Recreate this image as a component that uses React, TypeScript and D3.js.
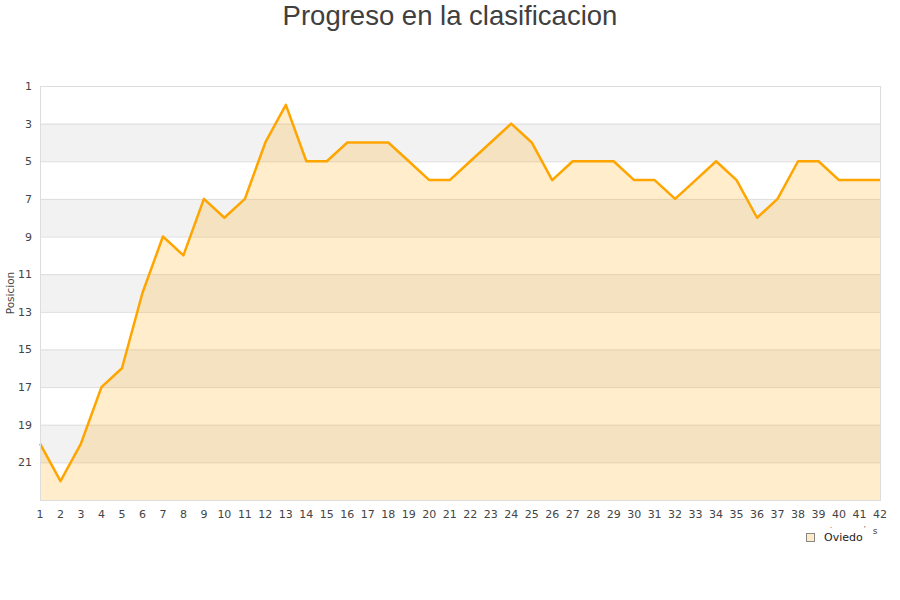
import { useEffect, useRef } from "react";
import * as d3 from "d3";

const jornadas = d3.range(1, 43);
const posiciones = [
  20, 22, 20, 17, 16, 12, 9, 10, 7, 8, 7, 4, 2, 5, 5, 4, 4, 4, 5, 6, 6,
  5, 4, 3, 4, 6, 5, 5, 5, 6, 6, 7, 6, 5, 6, 8, 7, 5, 5, 6, 6, 6,
];
const yTicks = [1, 3, 5, 7, 9, 11, 13, 15, 17, 19, 21];
const bandStarts = [3, 7, 11, 15, 19];
const serieNombre = "Oviedo";
const titulo = "Progreso en la clasificacion";

const App = () => {
  const svgRef = useRef<SVGSVGElement | null>(null);

  useEffect(() => {
    const width = 900;
    const height = 600;
    const margin = { top: 86, right: 20, bottom: 100, left: 40 };
    const fontTicks = "DejaVu Sans, sans-serif";

    const svg = d3.select(svgRef.current).attr("width", width).attr("height", height);
    svg.selectAll("*").remove();

    const x = d3
      .scaleLinear()
      .domain([1, 42])
      .range([margin.left, width - margin.right]);
    const y = d3
      .scaleLinear()
      .domain([1, 23])
      .range([margin.top, height - margin.bottom]);

    // Title
    svg
      .append("text")
      .attr("x", width / 2)
      .attr("y", 25)
      .attr("text-anchor", "middle")
      .attr("font-family", "Liberation Sans, Arial, sans-serif")
      .attr("font-size", 27.5)
      .attr("fill", "#404040")
      .text(titulo);

    // Alternating bands
    svg
      .append("g")
      .selectAll("rect")
      .data(bandStarts)
      .join("rect")
      .attr("x", x(1))
      .attr("width", x(42) - x(1))
      .attr("y", (d) => y(d))
      .attr("height", (d) => y(d + 2) - y(d))
      .attr("fill", "#f2f2f2");

    // Grid lines
    svg
      .append("g")
      .selectAll("line")
      .data(yTicks)
      .join("line")
      .attr("x1", x(1))
      .attr("x2", x(42))
      .attr("y1", (d) => y(d) + 0.5)
      .attr("y2", (d) => y(d) + 0.5)
      .attr("stroke", "#dddddd")
      .attr("stroke-width", 1);

    // Area + line
    const area = d3
      .area<number>()
      .x((_, i) => x(jornadas[i]))
      .y0(y(23))
      .y1((d) => y(d));
    svg
      .append("path")
      .datum(posiciones)
      .attr("d", area)
      .attr("fill", "rgba(255,165,0,0.2)");

    const line = d3
      .line<number>()
      .x((_, i) => x(jornadas[i]))
      .y((d) => y(d));
    svg
      .append("path")
      .datum(posiciones)
      .attr("d", line)
      .attr("fill", "none")
      .attr("stroke", "#ffa500")
      .attr("stroke-width", 2.5)
      .attr("stroke-linejoin", "round");

    // Plot frame
    svg
      .append("rect")
      .attr("x", x(1) + 0.5)
      .attr("y", y(1) + 0.5)
      .attr("width", x(42) - x(1))
      .attr("height", y(23) - y(1))
      .attr("fill", "none")
      .attr("stroke", "#dddddd");

    // Y tick labels
    svg
      .append("g")
      .selectAll("text")
      .data(yTicks)
      .join("text")
      .attr("x", x(1) - 8)
      .attr("y", (d) => y(d) + 4)
      .attr("text-anchor", "end")
      .attr("font-family", fontTicks)
      .attr("font-size", 11)
      .attr("fill", "#444")
      .text((d) => d);

    // X tick labels
    svg
      .append("g")
      .selectAll("text")
      .data(jornadas)
      .join("text")
      .attr("x", (d) => x(d))
      .attr("y", y(23) + 18)
      .attr("text-anchor", "middle")
      .attr("font-family", fontTicks)
      .attr("font-size", 11)
      .attr("fill", "#444")
      .text((d) => d);

    // Y axis title
    svg
      .append("text")
      .attr("transform", `translate(14,${(y(1) + y(23)) / 2}) rotate(-90)`)
      .attr("text-anchor", "middle")
      .attr("font-family", fontTicks)
      .attr("font-size", 10.5)
      .attr("fill", "#444")
      .text("Posicion");

    // Clipped x axis title remnants
    svg
      .append("text")
      .attr("x", 875)
      .attr("y", 534)
      .attr("text-anchor", "middle")
      .attr("font-family", fontTicks)
      .attr("font-size", 9)
      .attr("fill", "#444")
      .text("s");
    svg.append("text").attr("x", 830).attr("y", 528).attr("font-size", 8).attr("fill", "#444").text(".");
    svg.append("text").attr("x", 864).attr("y", 532).attr("font-size", 8).attr("fill", "#444").text("'");

    // Legend
    const legend = svg.append("g").attr("transform", "translate(806,533)");
    legend
      .append("rect")
      .attr("width", 8)
      .attr("height", 8)
      .attr("x", 0.5)
      .attr("y", 0.5)
      .attr("fill", "#fdebc8")
      .attr("stroke", "#888");
    legend
      .append("text")
      .attr("x", 18)
      .attr("y", 8)
      .attr("font-family", fontTicks)
      .attr("font-size", 11)
      .attr("fill", "#222")
      .text(serieNombre);
  }, []);

  return (
    <div style={{ position: "absolute", left: 0, top: 0 }}>
      <svg ref={svgRef} style={{ display: "block" }} />
    </div>
  );
};

export default App;
